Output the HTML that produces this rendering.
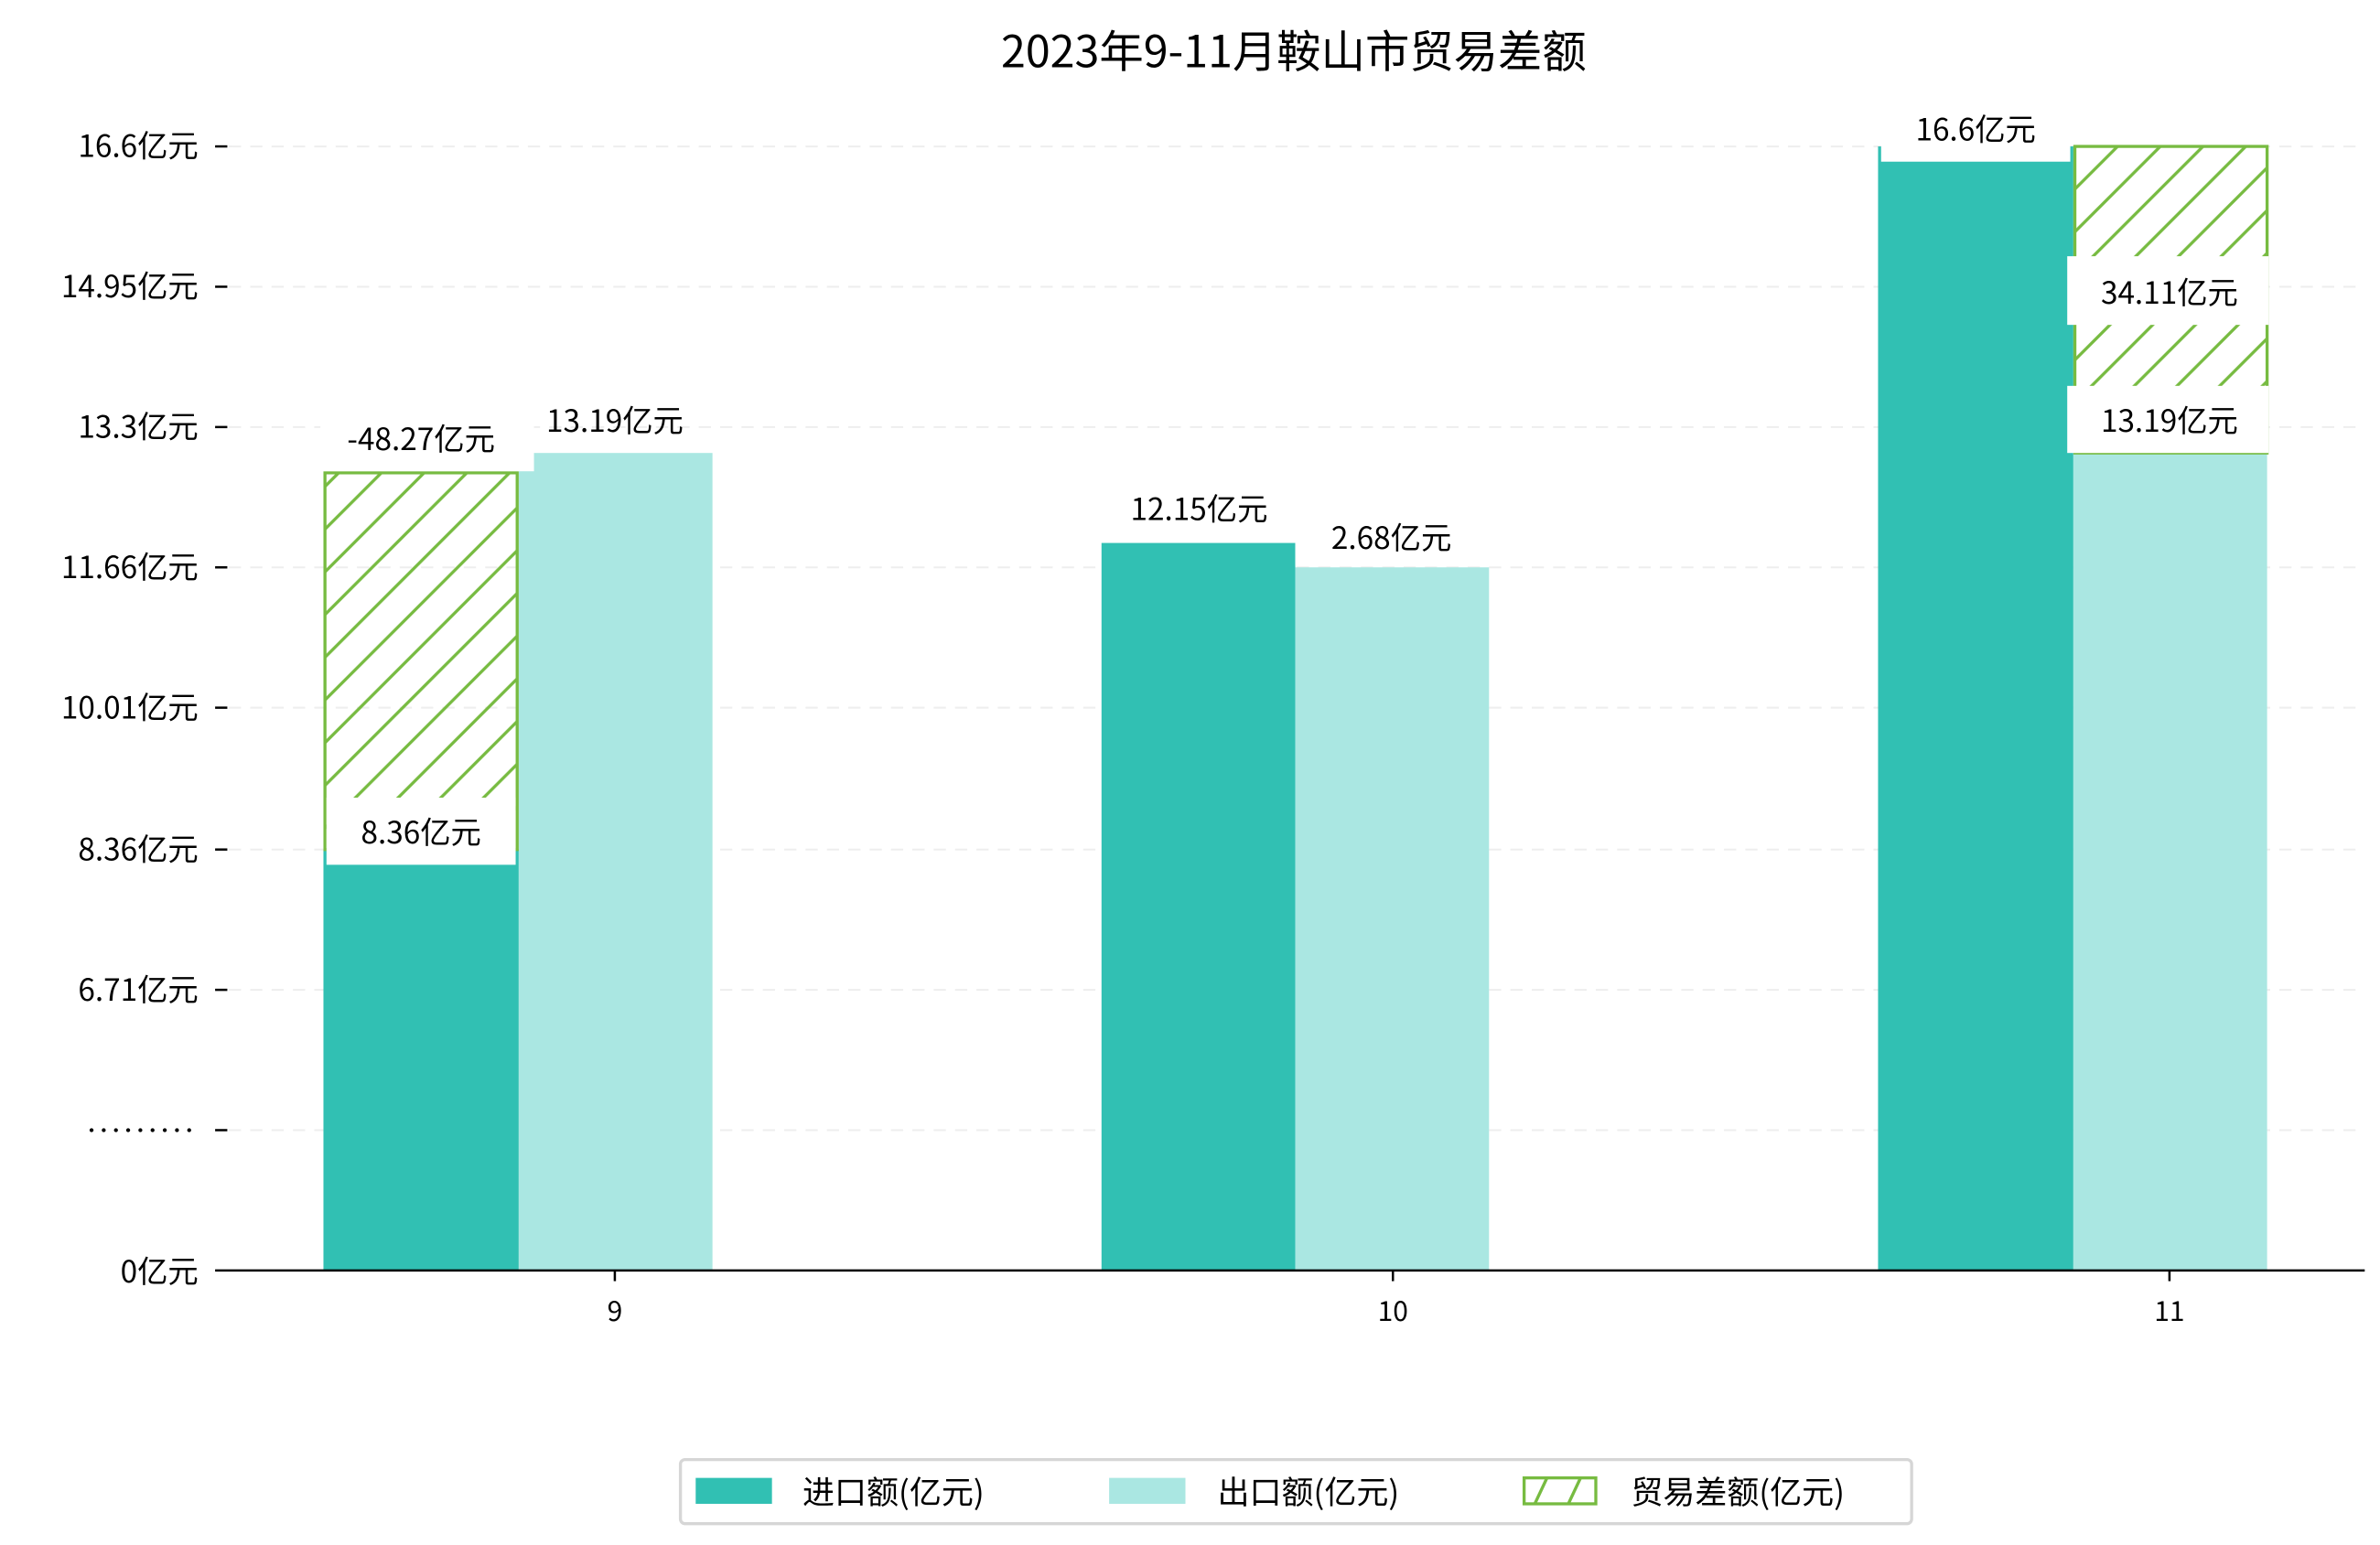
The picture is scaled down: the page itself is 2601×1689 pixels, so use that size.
<!DOCTYPE html>
<html><head><meta charset="utf-8"><style>
html,body{margin:0;padding:0;background:#fff;}
svg{display:block;}
text{font-family:"WenQuanYi Zen Hei","Noto Sans CJK SC","Liberation Sans",sans-serif;fill:#000;}
</style></head><body>
<svg width="2601" height="1689" viewBox="0 0 1560 1013" preserveAspectRatio="none" xmlns="http://www.w3.org/2000/svg">
<defs>
<pattern id="h" patternUnits="userSpaceOnUse" width="28" height="28">
<path d="M-7,7 L7,-7 M0,28 L28,0 M21,35 L35,21" stroke="#77bb41" stroke-width="2"/>
</pattern>
</defs>
<text x="848" y="44" font-size="29" text-anchor="middle">2023年9-11月鞍山市贸易差额</text>
<g stroke="#eeeeee" stroke-width="1.2" stroke-dasharray="8,6">
<line x1="150" y1="96" x2="1550" y2="96"/><line x1="150" y1="188" x2="1550" y2="188"/>
<line x1="150" y1="280" x2="1550" y2="280"/><line x1="150" y1="372" x2="1550" y2="372"/>
<line x1="150" y1="464" x2="1550" y2="464"/><line x1="150" y1="557" x2="1550" y2="557"/>
<line x1="150" y1="649" x2="1550" y2="649"/><line x1="150" y1="741" x2="1550" y2="741"/>
</g>
<g stroke="#000" stroke-width="1.5">
<line x1="141" y1="96" x2="149" y2="96"/><line x1="141" y1="188" x2="149" y2="188"/>
<line x1="141" y1="280" x2="149" y2="280"/><line x1="141" y1="372" x2="149" y2="372"/>
<line x1="141" y1="464" x2="149" y2="464"/><line x1="141" y1="557" x2="149" y2="557"/>
<line x1="141" y1="649" x2="149" y2="649"/><line x1="141" y1="741" x2="149" y2="741"/>
</g>
<g font-size="20" text-anchor="end">
<text x="130" y="103">16.6亿元</text><text x="130" y="195">14.95亿元</text>
<text x="130" y="287">13.3亿元</text><text x="130" y="379">11.66亿元</text>
<text x="130" y="471">10.01亿元</text><text x="130" y="564">8.36亿元</text>
<text x="130" y="656">6.71亿元</text>
<text x="130" y="841">0亿元</text>
</g>
<g fill="#000">
<circle cx="60" cy="741" r="1.3"/><circle cx="68" cy="741" r="1.3"/><circle cx="76" cy="741" r="1.3"/>
<circle cx="84" cy="741" r="1.3"/><circle cx="92" cy="741" r="1.3"/><circle cx="100" cy="741" r="1.3"/>
<circle cx="108" cy="741" r="1.3"/><circle cx="116" cy="741" r="1.3"/><circle cx="124" cy="741" r="1.3"/>
</g>
<rect x="212" y="557" width="128" height="276" fill="#31c0b3"/>
<rect x="340" y="297" width="127" height="536" fill="#aae7e2"/>
<rect x="213" y="310" width="126" height="247" fill="url(#h)" stroke="#77bb41" stroke-width="2"/>
<rect x="722" y="356" width="127" height="477" fill="#31c0b3"/>
<rect x="849" y="372" width="127" height="461" fill="#aae7e2"/>
<rect x="1231" y="96" width="128" height="737" fill="#31c0b3"/>
<rect x="1359" y="297" width="127" height="536" fill="#aae7e2"/>
<rect x="1360" y="96" width="126" height="201" fill="url(#h)" stroke="#77bb41" stroke-width="2"/>
<g fill="#fff">
<rect x="210" y="270" width="140" height="39"/>
<rect x="214" y="523" width="124" height="44"/>
<rect x="1233" y="68" width="124" height="38"/>
<rect x="1355" y="168" width="132" height="45"/>
<rect x="1355" y="253" width="132" height="44"/>
<rect x="722" y="318" width="124" height="36"/>
<rect x="849" y="338" width="124" height="33"/>
</g>
<g font-size="20" text-anchor="middle">
<text x="276" y="295">-48.27亿元</text>
<text x="403" y="283">13.19亿元</text>
<text x="276" y="553">8.36亿元</text>
<text x="786" y="341">12.15亿元</text>
<text x="912" y="360">2.68亿元</text>
<text x="1295" y="92">16.6亿元</text>
<text x="1422" y="199">34.11亿元</text>
<text x="1422" y="283">13.19亿元</text>
</g>
<line x1="141" y1="833" x2="1550" y2="833" stroke="#000" stroke-width="1.5"/>
<g stroke="#000" stroke-width="1.5">
<line x1="403" y1="833" x2="403" y2="840"/><line x1="913" y1="833" x2="913" y2="840"/><line x1="1422" y1="833" x2="1422" y2="840"/>
</g>
<g font-size="18" text-anchor="middle">
<text x="403" y="866">9</text><text x="913" y="866">10</text><text x="1422" y="866">11</text>
</g>
<rect x="446" y="957" width="807" height="42" rx="3" fill="#fff" stroke="#d6d6d6" stroke-width="2"/>
<rect x="456" y="969" width="50" height="17" fill="#31c0b3"/>
<text x="526" y="986" font-size="21">进口额(亿元)</text>
<rect x="727" y="969" width="50" height="17" fill="#aae7e2"/>
<text x="798" y="986" font-size="21">出口额(亿元)</text>
<rect x="999" y="969" width="47" height="17" fill="none" stroke="#77bb41" stroke-width="2"/>
<path d="M1006,986 L1014,969 M1028,986 L1036,969" stroke="#77bb41" stroke-width="2"/>
<text x="1069" y="986" font-size="21">贸易差额(亿元)</text>
</svg>
</body></html>
